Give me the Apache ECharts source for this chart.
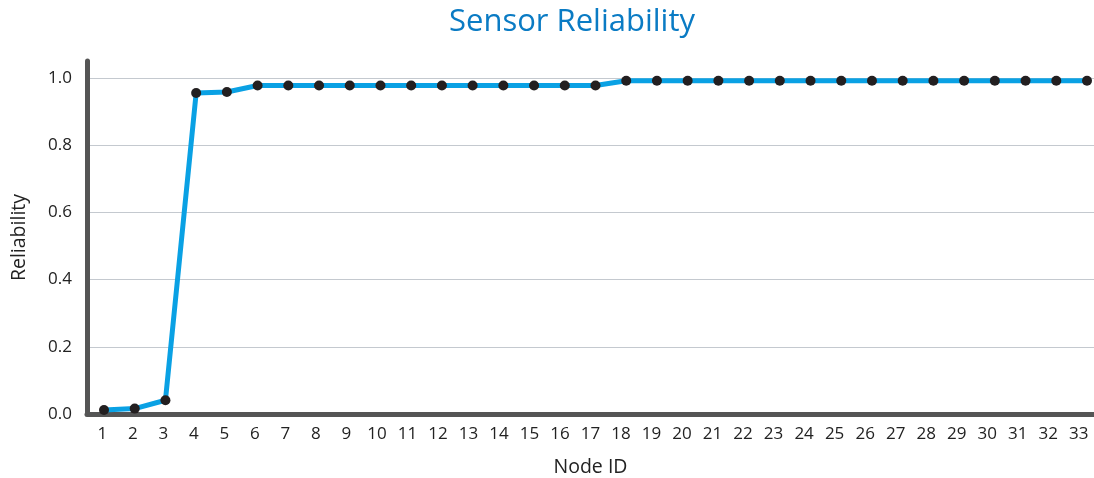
<!DOCTYPE html>
<html><head><meta charset="utf-8">
<script src="https://cdn.jsdelivr.net/npm/echarts@6/dist/echarts.min.js"></script>
<style>html,body{margin:0;padding:0;background:#fff}#c{width:1094px;height:478px}</style>
</head><body><div id="c"></div>
<script>
const nodeIds = Array.from({length:33},(_,i)=>String(i+1));
const reliability = [0.012,0.016,0.041,0.955,0.958,
  0.977,0.977,0.977,0.977,0.977,0.977,0.977,0.977,0.977,0.977,0.977,0.977,
  0.991,0.991,0.991,0.991,0.991,0.991,0.991,0.991,0.991,0.991,0.991,0.991,0.991,0.991,0.991,0.991];
const font = 'Open Sans';
const chart = echarts.init(document.getElementById('c'));
chart.setOption({
  animation:false,
  title:{text:'Sensor Reliability',left:444,top:2,
    textStyle:{color:'#0a7bc4',fontSize:31,fontWeight:'normal',fontFamily:font}},
  grid:[{left:87,right:0,top:61,bottom:64,containLabel:false,outerBoundsMode:'none'},
        {left:104,right:7,top:61,bottom:64,containLabel:false,outerBoundsMode:'none'}],
  xAxis:[{type:'category',data:nodeIds,boundaryGap:true,gridIndex:0,
    name:'Node ID',nameLocation:'middle',nameGap:43,
    nameTextStyle:{color:'#222',fontSize:19.5,fontFamily:font},
    axisLine:{lineStyle:{color:'#555',width:5}},
    axisTick:{show:false},
    axisLabel:{color:'#222',fontSize:17,fontFamily:font,margin:12,interval:0}},
   {type:'category',data:nodeIds,boundaryGap:false,gridIndex:1,show:false}],
  yAxis:[{type:'value',min:0,max:1.05,interval:0.2,gridIndex:0,
    name:'Reliability',nameLocation:'middle',nameGap:58,
    nameTextStyle:{color:'#222',fontSize:19.5,fontFamily:font},
    axisLine:{show:true,lineStyle:{color:'#555',width:5}},
    axisTick:{show:false},
    axisLabel:{color:'#222',fontSize:17,fontFamily:font,margin:15,showMaxLabel:false,
      padding:[6,0,0,0],formatter:v=>v.toFixed(1)},
    splitLine:{show:true,showMaxLine:false,lineStyle:{color:'#c4c9cf',width:1.2}}},
   {type:'value',min:0,max:1.05,gridIndex:1,show:false}],
  series:[{type:'line',data:reliability,xAxisIndex:1,yAxisIndex:1,
    lineStyle:{color:'#0aa1e4',width:5},
    itemStyle:{color:'#231f20'},
    symbol:'circle',symbolSize:10,showSymbol:true}]
});
</script></body></html>
